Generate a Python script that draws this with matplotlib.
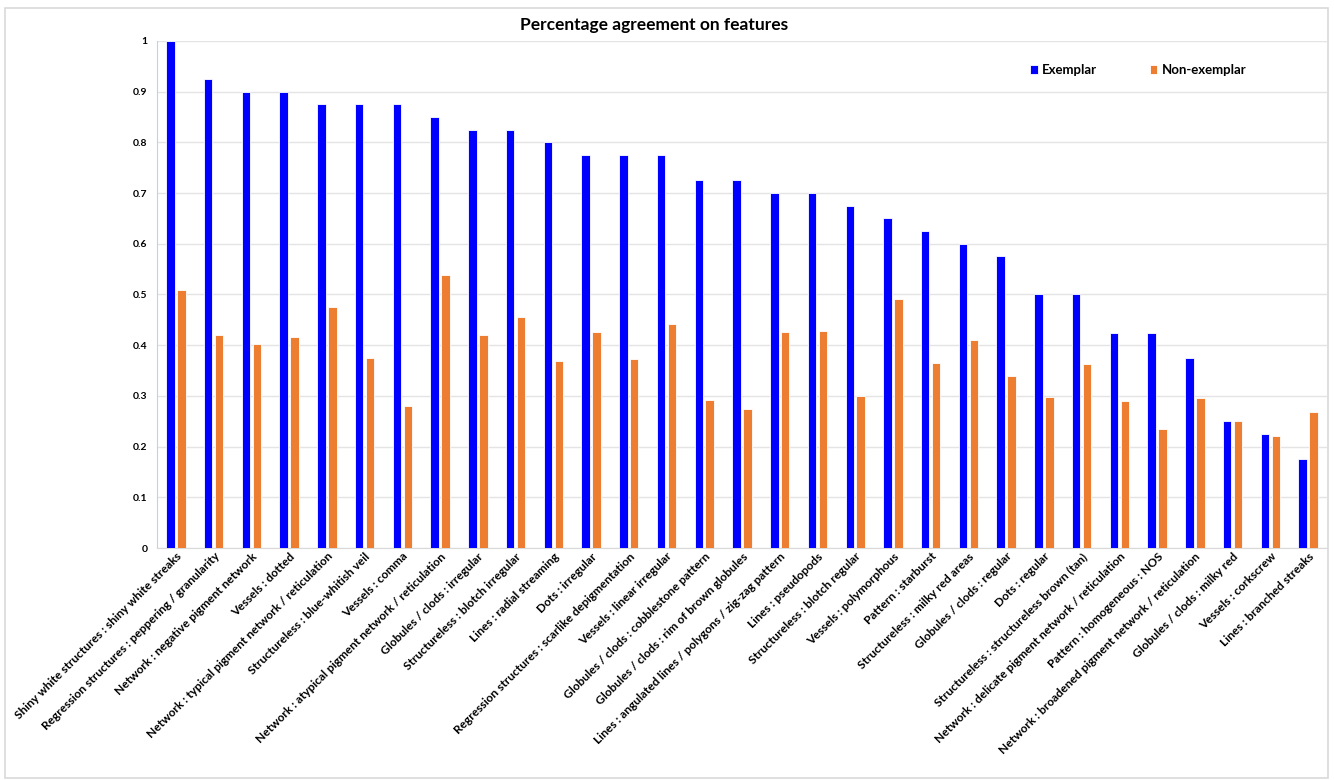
import matplotlib
matplotlib.use("Agg")
import matplotlib.pyplot as plt
import numpy as np
from matplotlib.patches import Rectangle

plt.rcParams['font.family'] = ['Lato', 'DejaVu Sans']

categories = [
    "Shiny white structures : shiny white streaks",
    "Regression structures : peppering / granularity",
    "Network : negative pigment network",
    "Vessels : dotted",
    "Network : typical pigment network / reticulation",
    "Structureless : blue-whitish veil",
    "Vessels : comma",
    "Network : atypical pigment network / reticulation",
    "Globules / clods : irregular",
    "Structureless : blotch irregular",
    "Lines : radial streaming",
    "Dots : irregular",
    "Regression structures : scarlike depigmentation",
    "Vessels : linear irregular",
    "Globules / clods : cobblestone pattern",
    "Globules / clods : rim of brown globules",
    "Lines : angulated lines / polygons / zig-zag pattern",
    "Lines : pseudopods",
    "Structureless : blotch regular",
    "Vessels : polymorphous",
    "Pattern : starburst",
    "Structureless : milky red areas",
    "Globules / clods : regular",
    "Dots : regular",
    "Structureless : structureless brown (tan)",
    "Network : delicate pigment network / reticulation",
    "Pattern : homogeneous : NOS",
    "Network : broadened pigment network / reticulation",
    "Globules / clods : milky red",
    "Vessels : corkscrew",
    "Lines : branched streaks",
]

exemplar = [1.0, 0.925, 0.9, 0.9, 0.875, 0.875, 0.875, 0.85, 0.825, 0.825,
            0.8, 0.775, 0.775, 0.775, 0.725, 0.725, 0.7, 0.7, 0.675, 0.65,
            0.625, 0.6, 0.575, 0.5, 0.5, 0.425, 0.425, 0.375, 0.25, 0.225, 0.175]

non_exemplar = [0.508, 0.421, 0.403, 0.417, 0.476, 0.374, 0.280, 0.539, 0.421, 0.456,
                0.369, 0.426, 0.373, 0.441, 0.291, 0.274, 0.426, 0.428, 0.300, 0.491,
                0.364, 0.411, 0.339, 0.297, 0.363, 0.289, 0.235, 0.295, 0.250, 0.220, 0.268]

yticks = [0, 0.1, 0.2, 0.3, 0.4, 0.5, 0.6, 0.7, 0.8, 0.9, 1]
ytick_labels = ["0", "0.1", "0.2", "0.3", "0.4", "0.5", "0.6", "0.7", "0.8", "0.9", "1"]

W, H = 1334, 780
fig = plt.figure(figsize=(W / 100, H / 100), dpi=100)

# outer chart border
fig.patches.append(Rectangle((5 / W, 2 / H), 1323 / W, 770 / H, transform=fig.transFigure,
                             fill=False, edgecolor='#D9D9D9', linewidth=1.2))

ax = fig.add_axes([157 / W, 1 - 548 / H, 1170 / W, 507 / H])
x = np.arange(len(categories))
off = 0.145
bw = 0.225
ax.bar(x - off, exemplar, bw, color='#0000FF', edgecolor='white', linewidth=0.6,
       label='Exemplar', zorder=3)
ax.bar(x + off, non_exemplar, bw, color='#ED7D31', edgecolor='white', linewidth=0.6,
       label='Non-exemplar', zorder=3)

ax.set_xlim(-0.5, len(categories) - 0.5)
ax.set_ylim(0, 1)
ax.set_yticks(yticks)
ax.set_yticklabels(ytick_labels, fontsize=7.5, fontweight='bold')
ax.yaxis.grid(True, color='#E4E4E4', linewidth=1, zorder=0)
ax.tick_params(axis='y', length=0, pad=7)
ax.tick_params(axis='x', length=0, pad=2)
ax.set_xticks(x)
ax.set_xticklabels(categories, rotation=45, ha='right', rotation_mode='anchor',
                   fontsize=8.6, fontweight='bold')
for s in ['top', 'right']:
    ax.spines[s].set_visible(False)
ax.spines['left'].set_color('#C5D0E6')
ax.spines['bottom'].set_color('#D9D9D9')

fig.text(654 / W, 1 - 25 / H, "Percentage agreement on features", ha='center', va='center',
         fontsize=12.5, fontweight='bold')

leg = ax.legend(loc='center', bbox_to_anchor=(1138 / W, 1 - 70 / H),
                bbox_transform=fig.transFigure, ncol=2, frameon=False,
                handlelength=0.6, handleheight=0.6, handletextpad=0.3,
                columnspacing=4.0, prop={'weight': 'bold', 'size': 9.5})

fig.savefig("out.png", dpi=100)
